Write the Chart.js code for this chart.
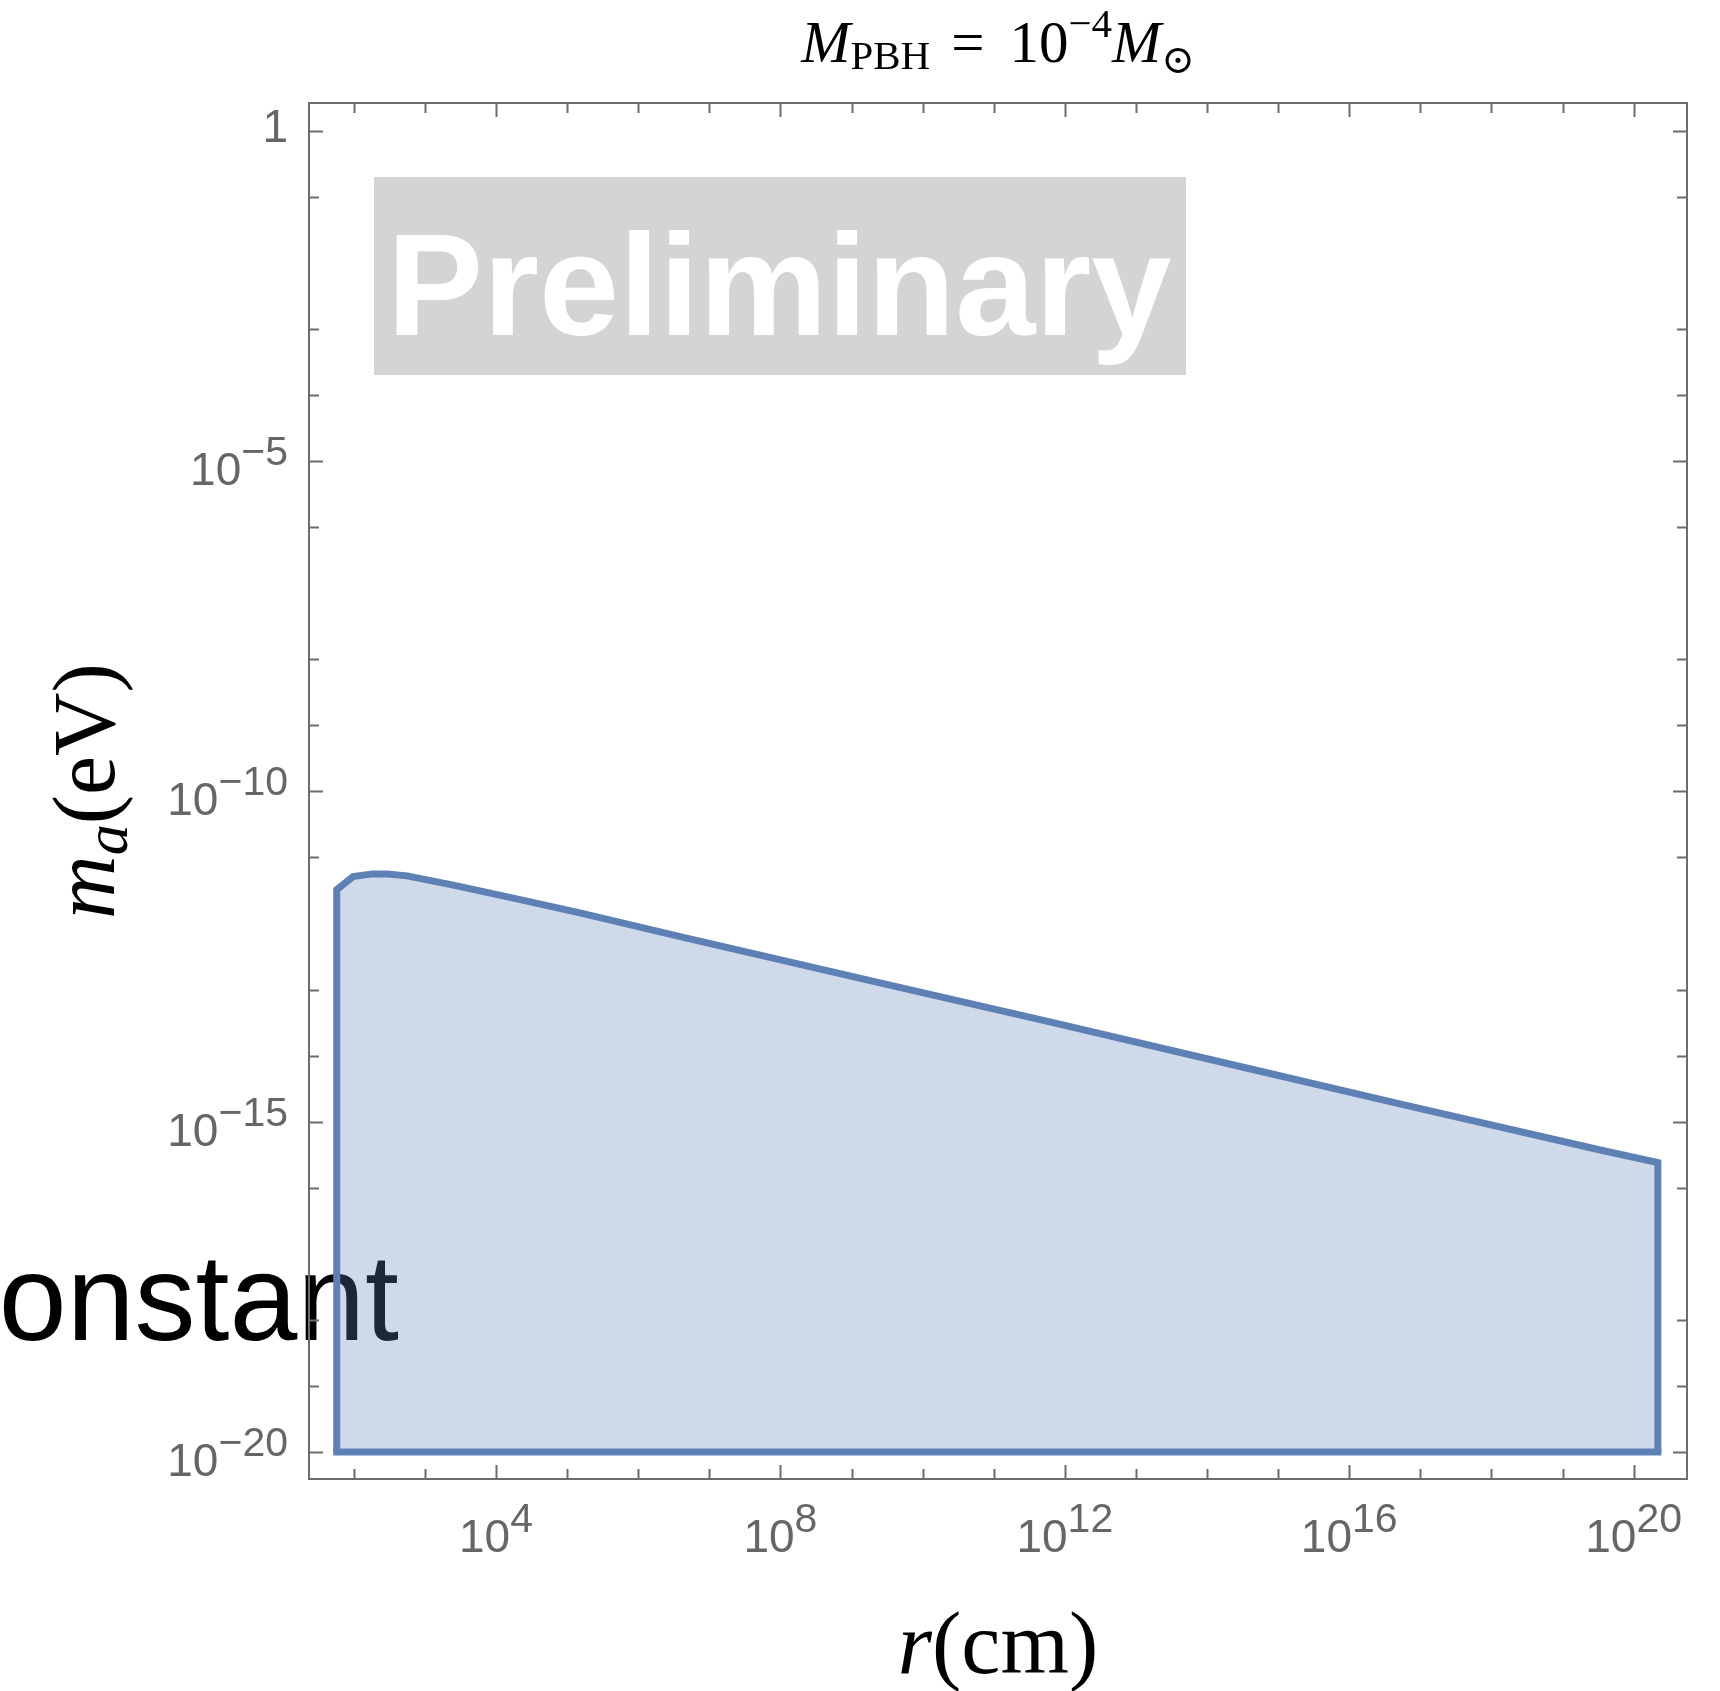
<!DOCTYPE html>
<html>
<head>
<meta charset="utf-8">
<script src="https://cdn.jsdelivr.net/npm/chart.js@4.4.1/dist/chart.umd.min.js"></script>
<style>
  html, body { margin: 0; padding: 0; background: #fff; overflow: hidden; }
  canvas { display: block; }
</style>
</head>
<body>
<canvas id="pbhChart" width="1720" height="1691"></canvas>
<script>
// Region boundary, as log10 r (cm) and log10 m_a (eV)
const rLog = [1.76, 1.76, 1.99, 2.26, 2.47, 2.75, 3.40, 4.34, 5.18, 6.59, 9.40, 11.79, 14.60, 16.71, 19.53, 20.34, 20.34];
const maLog = [-20, -11.49, -11.29, -11.25, -11.25, -11.28, -11.42, -11.64, -11.84, -12.20, -12.90, -13.49, -14.20, -14.73, -15.43, -15.62, -20];
const floorLog = -20;

// Axis ranges and ticks (log10)
const xRange = [1.37, 20.75];
const yRange = [-20.41, 0.42];
const xTickExps = [2, 3, 4, 5, 6, 7, 8, 9, 10, 11, 12, 13, 14, 15, 16, 17, 18, 19, 20];
const xMajorExps = [4, 8, 12, 16, 20];
const yTickExps = [0, -1, -3, -4, -5, -6, -8, -9, -10, -11, -13, -14, -15, -16, -18, -19, -20];
const yMajorExps = [0, -5, -10, -15, -20];

const BLUE = "#5e81b5";
const FILL = "rgba(94, 129, 181, 0.3)";
const GRAY = "#6d6d6d";
const LABEL = "#666666";
const SANS = '"Liberation Sans", Arial, sans-serif';
const SERIF = '"Liberation Serif", "DejaVu Serif", serif';

const regionPoints = rLog.map((e, i) => ({ x: 10 ** e, y: 10 ** maLog[i] }));
const floorPoints = [
  { x: 10 ** rLog[0], y: 10 ** floorLog },
  { x: 10 ** rLog[rLog.length - 1], y: 10 ** floorLog },
];

// draw a row of text pieces (for sub/superscripts)
function drawRuns(ctx, runs, x, y, align) {
  let total = 0;
  runs.forEach(r => {
    if (r.text) { ctx.font = r.font; r.w = ctx.measureText(r.text).width; } else { r.w = r.gap; }
    total += r.w;
  });
  let cx = align === "center" ? x - total / 2 : align === "right" ? x - total : x;
  ctx.textAlign = "left";
  ctx.textBaseline = "alphabetic";
  runs.forEach(r => {
    if (r.text) { ctx.font = r.font; ctx.fillText(r.text, cx, y + (r.dy || 0)); }
    cx += r.w;
  });
}

function powerRuns(exp) {
  if (exp === 0) return [{ text: "1", font: `46px ${SANS}` }];
  return [
    { text: "10", font: `46px ${SANS}` },
    { text: (exp < 0 ? "\u2212" : "") + Math.abs(exp), font: `41px ${SANS}`, dy: -20 },
  ];
}

// text lying under the filled region
const underlayText = {
  id: "underlayText",
  beforeDatasetsDraw(chart) {
    const ctx = chart.ctx;
    ctx.save();
    ctx.fillStyle = "#000";
    ctx.font = `122px ${SANS}`;
    ctx.textAlign = "right";
    ctx.textBaseline = "alphabetic";
    ctx.fillText("Constant", 399, 1340);
    ctx.restore();
  },
};

// Mathematica-style frame, inward ticks, labels and title
const frameDecor = {
  id: "frameDecor",
  afterDraw(chart) {
    const ctx = chart.ctx;
    const { left, right, top, bottom } = chart.chartArea;
    const xs = chart.scales.x, ys = chart.scales.y;
    ctx.save();

    // Preliminary stamp
    ctx.fillStyle = "#d4d4d4";
    ctx.fillRect(374, 177, 812, 198);
    ctx.fillStyle = "#fff";
    ctx.font = `bold 144px ${SANS}`;
    ctx.textAlign = "left";
    ctx.fillText("Preliminary", 387, 335);

    ctx.strokeStyle = GRAY;
    ctx.lineWidth = 2;
    ctx.strokeRect(left, top, right - left, bottom - top);

    ctx.beginPath();
    xs.ticks.forEach(t => {
      const px = Math.round(xs.getPixelForValue(t.value)) + 0.5;
      const len = t.major ? 14 : 10;
      ctx.moveTo(px, bottom); ctx.lineTo(px, bottom - len);
      ctx.moveTo(px, top); ctx.lineTo(px, top + len);
    });
    ys.ticks.forEach(t => {
      const py = Math.round(ys.getPixelForValue(t.value)) + 0.5;
      const len = t.major ? 14 : 10;
      ctx.moveTo(left, py); ctx.lineTo(left + len, py);
      ctx.moveTo(right, py); ctx.lineTo(right - len, py);
    });
    ctx.stroke();

    ctx.fillStyle = LABEL;
    xs.ticks.filter(t => t.major).forEach(t => {
      drawRuns(ctx, powerRuns(t.exp), xs.getPixelForValue(t.value), 1552, "center");
    });
    ys.ticks.filter(t => t.major).forEach(t => {
      const py = ys.getPixelForValue(t.value);
      drawRuns(ctx, powerRuns(t.exp), 288, py + (t.exp === 0 ? 11 : 24), "right");
    });

    // title
    ctx.fillStyle = "#000";
    drawRuns(ctx, [
      { text: "M", font: `italic 59px ${SERIF}` },
      { text: "PBH", font: `41px ${SERIF}`, dy: 7 },
      { gap: 21 },
      { text: "=", font: `59px ${SERIF}` },
      { gap: 25 },
      { text: "10", font: `59px ${SERIF}` },
      { text: "\u22124", font: `41px ${SERIF}`, dy: -25 },
      { text: "M", font: `italic 59px ${SERIF}` },
      { text: "\u2299", font: `40px ${SERIF}`, dy: 11 },
    ], (left + right) / 2, 62, "center");

    // x axis label
    drawRuns(ctx, [
      { text: "r", font: `italic 88px ${SERIF}` },
      { text: "(cm)", font: `88px ${SERIF}` },
    ], (left + right) / 2, 1673, "center");

    // y axis label
    ctx.translate(114, (top + bottom) / 2);
    ctx.rotate(-Math.PI / 2);
    drawRuns(ctx, [
      { text: "m", font: `italic 88px ${SERIF}` },
      { text: "a", font: `italic 62px ${SERIF}`, dy: 13 },
      { text: "(eV)", font: `88px ${SERIF}` },
    ], 0, 0, "center");

    ctx.restore();
  },
};

new Chart(document.getElementById("pbhChart").getContext("2d"), {
  type: "scatter",
  data: {
    datasets: [
      {
        data: regionPoints,
        showLine: true,
        borderColor: BLUE,
        backgroundColor: FILL,
        borderWidth: 7,
        borderJoinStyle: "miter",
        pointRadius: 0,
        tension: 0,
        fill: { value: 10 ** floorLog },
      },
      {
        data: floorPoints,
        showLine: true,
        borderColor: BLUE,
        borderWidth: 7,
        borderCapStyle: "square",
        pointRadius: 0,
        fill: false,
      },
    ],
  },
  options: {
    responsive: false,
    animation: false,
    devicePixelRatio: 1,
    layout: { padding: { left: 309, top: 103, right: 33, bottom: 212 } },
    plugins: { legend: { display: false }, tooltip: { enabled: false } },
    scales: {
      x: {
        type: "logarithmic",
        min: 10 ** xRange[0],
        max: 10 ** xRange[1],
        grid: { display: false, drawTicks: false },
        border: { display: false },
        ticks: { display: false },
        afterBuildTicks: s => {
          s.ticks = xTickExps.map(e => ({ value: 10 ** e, exp: e, major: xMajorExps.includes(e) }));
        },
      },
      y: {
        type: "logarithmic",
        min: 10 ** yRange[0],
        max: 10 ** yRange[1],
        grid: { display: false, drawTicks: false },
        border: { display: false },
        ticks: { display: false },
        afterBuildTicks: s => {
          s.ticks = yTickExps.map(e => ({ value: 10 ** e, exp: e, major: yMajorExps.includes(e) }));
        },
      },
    },
  },
  plugins: [underlayText, frameDecor],
});
</script>
</body>
</html>
